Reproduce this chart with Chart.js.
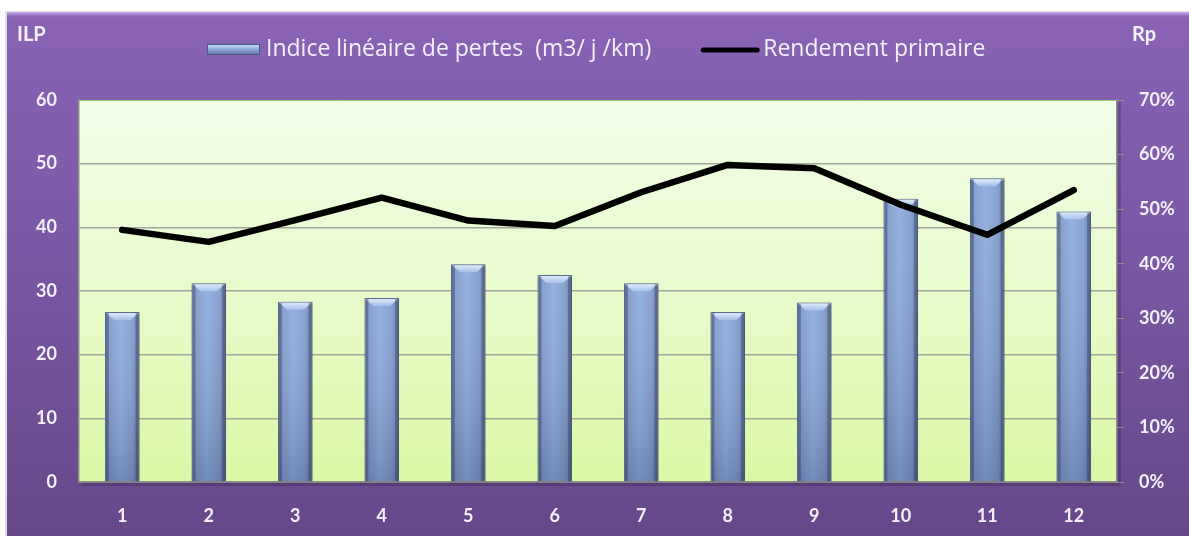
<!DOCTYPE html>
<html>
<head>
<meta charset="utf-8">
<script src="https://cdn.jsdelivr.net/npm/chart.js@4.4.1/dist/chart.umd.min.js"></script>
<style>
  html, body { margin: 0; padding: 0; background: #fff; }
  canvas { display: block; }
</style>
</head>
<body>
<canvas id="chart" width="1189" height="536"></canvas>
<script>
// months (x categories)
const months = ['1', '2', '3', '4', '5', '6', '7', '8', '9', '10', '11', '12'];
// ILP bars, m3/j/km (left axis)
const ilpValues = [26.7, 31.2, 28.3, 28.9, 34.2, 32.5, 31.2, 26.7, 28.2, 44.5, 47.7, 42.5];
// Rendement primaire (right axis, fraction)
const rendementValues = [0.462, 0.440, 0.480, 0.521, 0.479, 0.469, 0.531, 0.581, 0.575, 0.508, 0.453, 0.535];

const ilpLabel = 'Indice linéaire de pertes  (m3/ j /km)';
const rpLabel = 'Rendement primaire';
const leftTitle = 'ILP';
const rightTitle = 'Rp';

const FONT = 'Lato, "Open Sans", sans-serif';
const LEGEND_FONT = '"Open Sans", Lato, sans-serif';
const WHITE = '#f4f0fa';
const GRID = '#a4a69c';
const BAR_PCT = 0.4;

function barGradient(ctx) {
  const chart = ctx.chart;
  const xs = chart.scales.x;
  if (!xs || ctx.type !== 'data') return '#86a3d3';
  const cx = xs.getPixelForValue(ctx.dataIndex);
  const half = (xs.width / months.length) * BAR_PCT / 2;
  if (!isFinite(cx) || !isFinite(half) || half <= 0) return '#86a3d3';
  const g = chart.ctx.createLinearGradient(cx - half, 0, cx + half, 0);
  g.addColorStop(0, '#6b80a8');
  g.addColorStop(0.12, '#7f99c8');
  g.addColorStop(0.45, '#8eaddd');
  g.addColorStop(0.8, '#809cce');
  g.addColorStop(1, '#5f7297');
  return g;
}

const backdrop = {
  id: 'backdrop',
  beforeDraw(chart) {
    const { ctx, width, height, chartArea: a } = chart;
    ctx.save();
    ctx.fillStyle = '#fff';
    ctx.fillRect(0, 0, width, height);
    // purple frame
    ctx.fillStyle = 'rgba(0,0,0,0.12)';
    ctx.fillRect(5, 11, width, height);
    const fg = ctx.createLinearGradient(0, 12, 0, height);
    fg.addColorStop(0, '#8a63b5');
    fg.addColorStop(0.45, '#7b58a5');
    fg.addColorStop(1, '#664889');
    ctx.fillStyle = fg;
    ctx.fillRect(7, 12, width - 7, height - 12);
    const tg = ctx.createLinearGradient(0, 12, 0, 18);
    tg.addColorStop(0, '#d2b4f5');
    tg.addColorStop(1, 'rgba(138,99,181,0)');
    ctx.fillStyle = tg;
    ctx.fillRect(7, 12, width - 7, 6);
    // plot area
    ctx.fillStyle = 'rgba(40,20,60,0.25)';
    ctx.fillRect(a.left + 2, a.top + 2, a.right - a.left + 2, a.bottom - a.top + 2);
    const pg = ctx.createLinearGradient(0, a.top, 0, a.bottom);
    pg.addColorStop(0, '#f2fde8');
    pg.addColorStop(0.5, '#e8fbcc');
    pg.addColorStop(1, '#daf8a6');
    ctx.fillStyle = pg;
    ctx.fillRect(a.left, a.top, a.right - a.left, a.bottom - a.top);
    ctx.strokeStyle = '#9fcf78';
    ctx.lineWidth = 1;
    ctx.beginPath();
    ctx.moveTo(a.left, a.top + 0.5);
    ctx.lineTo(a.right, a.top + 0.5);
    ctx.stroke();
    ctx.restore();
  }
};

const barStyle = {
  id: 'barStyle',
  beforeDatasetDraw(chart, args) {
    if (args.index !== 0) return;
    const ctx = chart.ctx;
    ctx.save();
    ctx.shadowColor = 'rgba(30,30,40,0.35)';
    ctx.shadowBlur = 4;
    ctx.shadowOffsetX = 2;
    ctx.shadowOffsetY = 1;
  },
  afterDatasetDraw(chart, args) {
    if (args.index !== 0) return;
    const ctx = chart.ctx;
    ctx.restore();
    ctx.save();
    args.meta.data.forEach(bar => {
      if (!isFinite(bar.y) || !isFinite(bar.base)) return;
      const l = bar.x - bar.width / 2, r = bar.x + bar.width / 2;
      const t = bar.y, b = bar.base;
      const vg = ctx.createLinearGradient(0, t, 0, b);
      vg.addColorStop(0, 'rgba(255,255,255,0.06)');
      vg.addColorStop(1, 'rgba(20,30,60,0.22)');
      ctx.fillStyle = vg;
      ctx.fillRect(l + 1, t, r - l - 2, b - t);
      // top bevel
      const bv = 8;
      const bg = ctx.createLinearGradient(0, t, 0, t + bv);
      bg.addColorStop(0, '#e2eefc');
      bg.addColorStop(1, '#a6c0ea');
      ctx.fillStyle = bg;
      ctx.beginPath();
      ctx.moveTo(l + 1, t + 1);
      ctx.lineTo(r - 1, t + 1);
      ctx.lineTo(r - 1 - bv, t + bv);
      ctx.lineTo(l + 1 + bv, t + bv);
      ctx.closePath();
      ctx.fill();
      // side edges
      ctx.fillStyle = 'rgba(40,55,90,0.35)';
      ctx.fillRect(l + 1, t + 1, 3, b - t - 1);
      ctx.fillRect(r - 4, t + 1, 3, b - t - 1);
    });
    ctx.restore();
  }
};

const labels = {
  id: 'labels',
  afterDraw(chart) {
    const ctx = chart.ctx;
    ctx.save();
    ctx.fillStyle = WHITE;
    ctx.textBaseline = 'alphabetic';
    ctx.font = 'bold 20px ' + FONT;
    ctx.textAlign = 'left';
    ctx.fillText(leftTitle, 17, 41);
    ctx.fillText(rightTitle, 1132, 41);

    // legend
    ctx.font = '23px ' + LEGEND_FONT;
    const cy = 49;
    let x = 207;
    const sg = ctx.createLinearGradient(0, cy - 6, 0, cy + 6);
    sg.addColorStop(0, '#dcebfb');
    sg.addColorStop(0.4, '#9dbbe6');
    sg.addColorStop(1, '#5c719c');
    ctx.fillStyle = sg;
    ctx.fillRect(x, cy - 5, 53, 11);
    ctx.strokeStyle = '#4a5c80';
    ctx.lineWidth = 1;
    ctx.strokeRect(x + 0.5, cy - 4.5, 52, 10);
    x += 59;
    ctx.fillStyle = WHITE;
    ctx.textBaseline = 'middle';
    ctx.fillText(ilpLabel, x, cy);
    x += ctx.measureText(ilpLabel).width + 52;
    ctx.strokeStyle = '#000';
    ctx.lineWidth = 5;
    ctx.lineCap = 'round';
    ctx.beginPath();
    ctx.moveTo(x, cy + 1);
    ctx.lineTo(x + 54, cy + 1);
    ctx.stroke();
    x += 60;
    ctx.fillText(rpLabel, x, cy);
    ctx.restore();
  }
};

new Chart(document.getElementById('chart'), {
  data: {
    labels: months,
    datasets: [
      {
        type: 'bar', label: ilpLabel, data: ilpValues, yAxisID: 'y', order: 1,
        backgroundColor: barGradient, borderColor: '#55688e', borderWidth: 1,
        barPercentage: BAR_PCT, categoryPercentage: 1,
      },
      {
        type: 'line', label: rpLabel, data: rendementValues, yAxisID: 'y2', order: 0,
        borderColor: '#000', borderWidth: 6.5, pointRadius: 0, tension: 0,
        borderCapStyle: 'round', borderJoinStyle: 'round', fill: false,
      },
    ],
  },
  options: {
    responsive: false, animation: false, devicePixelRatio: 1,
    layout: { padding: { top: 100, left: 0, right: 0, bottom: 0 } },
    plugins: { legend: { display: false }, tooltip: { enabled: false } },
    scales: {
      x: {
        offset: true,
        grid: { display: false, drawTicks: false },
        border: { display: true, color: '#8d8f88', width: 1.5 },
        ticks: { color: WHITE, font: { family: FONT, size: 18, weight: 'bold' }, padding: 23 },
        afterFit: s => { s.height = 54; },
      },
      y: {
        position: 'left', min: 0, max: 60,
        grid: { color: ctx => ctx.index === 6 ? 'rgba(0,0,0,0)' : GRID, lineWidth: 1.5, drawTicks: false },
        border: { display: true, color: '#8d8f88', width: 1.5 },
        ticks: { stepSize: 10, color: WHITE, font: { family: FONT, size: 18, weight: 'bold' }, padding: 22 },
        afterFit: s => { s.width = 79; },
      },
      y2: {
        position: 'right', min: 0, max: 0.7,
        grid: { drawOnChartArea: false, drawTicks: true, tickLength: 7, color: '#8d8f88' },
        border: { display: true, color: '#8d8f88', width: 1.5 },
        ticks: {
          stepSize: 0.1, color: WHITE, font: { family: FONT, size: 18, weight: 'bold' }, padding: 15,
          callback: v => Math.round(v * 100) + '%',
        },
        afterFit: s => { s.width = 72; },
      },
    },
  },
  plugins: [backdrop, barStyle, labels],
});
</script>
</body>
</html>
